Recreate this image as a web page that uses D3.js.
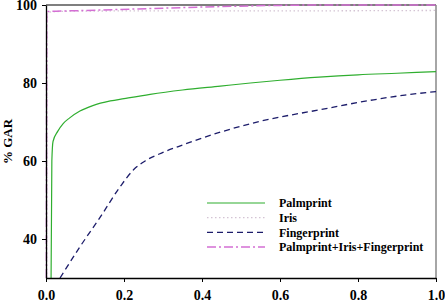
<!DOCTYPE html>
<html><head><meta charset="utf-8">
<script src="https://cdn.jsdelivr.net/npm/d3@7"></script>
<style>body{margin:0;background:#fff}svg{display:block}</style>
</head><body>
<script>
const xTicks = [0, 0.2, 0.4, 0.6, 0.8, 1.0];
const yTicks = [40, 60, 80, 100];
const seriesNames = ["Palmprint", "Iris", "Fingerprint", "Palmprint+Iris+Fingerprint"];
const palmprint = [[0.013,30],[0.015,60],[0.018,65],[0.03,67.6],[0.044,69.6],[0.06,71],[0.087,72.8],[0.12,74.2],[0.165,75.4],[0.2,76],[0.267,77.1],[0.35,78.2],[0.447,79.2],[0.524,80],[0.6,80.7],[0.7,81.5],[0.8,82.1],[0.9,82.5],[1.0,82.9]];
const iris = [[0.002,30],[0.003,98.1],[0.05,98.4],[0.3,98.5],[0.6,98.5],[1.0,98.6]];
const fingerprint = [[0.036,30],[0.087,38],[0.139,45.6],[0.19,53.4],[0.225,57.8],[0.254,60],[0.3,62.2],[0.35,64.1],[0.447,67.4],[0.55,70.2],[0.7,73.1],[0.84,75.7],[0.92,76.9],[1.0,77.8]];
const combined = [[0.001,30],[0.002,98.3],[0.1,98.6],[0.27,99.1],[0.45,99.6],[0.6,99.9],[0.7,100],[1.0,100]];

const W = 445, H = 303;
const m = {l:46, r:9, t:5, b:25};
const svg = d3.select("body").append("svg").attr("width", W).attr("height", H);
const x = d3.scaleLinear().domain([0,1]).range([m.l, W - m.r]);
const y = d3.scaleLinear().domain([30,100]).range([H - m.b, m.t]);
const font = "'Liberation Serif', 'Times New Roman', serif";

// frame: top black, right gray
svg.append("line").attr("x1", x(0)).attr("x2", x(1)).attr("y1", y(100)).attr("y2", y(100)).attr("stroke", "#000").attr("stroke-width", 1.2);
svg.append("line").attr("x1", x(1)).attr("x2", x(1)).attr("y1", y(100)).attr("y2", y(30)).attr("stroke", "#888").attr("stroke-width", 1.5);

const line = d3.line().x(d => x(d[0])).y(d => y(d[1])).curve(d3.curveMonotoneX);
const styles = [
  {data: palmprint, color: "#2fae2f", w: 1.2, dash: null},
  {data: iris, color: "#d4c4d4", w: 1.3, dash: "1.5,2.5"},
  {data: fingerprint, color: "#1c1c6a", w: 1.3, dash: "6,4"},
  {data: combined, color: "#d46fd4", w: 1.5, dash: "9,3,2,3"}
];
styles.forEach(s => {
  svg.append("path").datum(s.data).attr("d", line).attr("fill", "none")
    .attr("stroke", s.color).attr("stroke-width", s.w).attr("stroke-dasharray", s.dash);
});

// axes
const xa = svg.append("g").attr("transform", `translate(0,${y(30)})`)
  .call(d3.axisBottom(x).tickValues(xTicks).tickFormat(d3.format(".1f")).tickSize(4).tickSizeOuter(0));
const ya = svg.append("g").attr("transform", `translate(${x(0)},0)`)
  .call(d3.axisLeft(y).tickValues(yTicks).tickSize(4).tickSizeOuter(0));
[xa, ya].forEach(a => {
  a.select(".domain").attr("stroke", "#000").attr("stroke-width", 1.3);
  a.selectAll(".tick line").attr("stroke", "#000");
  a.selectAll("text").attr("font-family", font).attr("font-weight", "bold").attr("font-size", 14).attr("fill", "#000");
});
xa.selectAll("text").attr("dy", "1.05em");
ya.selectAll("text").attr("x", -9);

svg.append("text").attr("transform", `translate(12,${(y(30)+y(100))/2}) rotate(-90)`)
  .attr("text-anchor", "middle").attr("font-family", font).attr("font-weight", "bold")
  .attr("font-size", 13).text("% GAR");

// legend
const lg = svg.append("g");
styles.forEach((s, i) => {
  const yy = 203 + i * 14.7;
  lg.append("line").attr("x1", 207).attr("x2", 265).attr("y1", yy).attr("y2", yy)
    .attr("stroke", s.color).attr("stroke-width", s.w).attr("stroke-dasharray", s.dash);
  lg.append("text").attr("x", 279).attr("y", yy).attr("dy", "0.35em")
    .attr("font-family", font).attr("font-weight", "bold").attr("font-size", 12).text(seriesNames[i]);
});
</script>
</body></html>
